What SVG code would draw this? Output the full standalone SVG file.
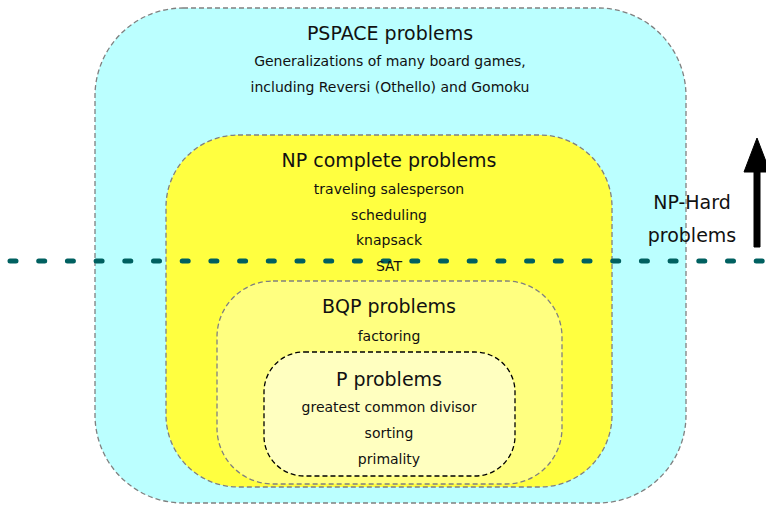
<svg xmlns="http://www.w3.org/2000/svg" width="766" height="507" viewBox="0 0 766 507">
<style>
text{font-family:"DejaVu Sans","Liberation Sans",sans-serif;fill:#111;text-anchor:middle}
.t{font-size:19px}
.s{font-size:14px}
.box{stroke:#808080;stroke-width:1.3;stroke-dasharray:5 3}
</style>
<rect width="766" height="507" fill="#fff"/>
<g id="pspace">
<rect class="box" x="95" y="8" width="591" height="495" rx="88" ry="88" fill="#bbffff"/>
<text class="t" x="390" y="40">PSPACE problems</text>
<text class="s" x="390" y="66">Generalizations of many board games,</text>
<text class="s" x="390" y="92">including Reversi (Othello) and Gomoku</text>
</g>
<g id="np">
<rect class="box" x="166" y="135" width="446" height="352" rx="72" ry="72" fill="#ffff40"/>
<text class="t" x="389" y="167">NP complete problems</text>
<text class="s" x="389" y="194">traveling salesperson</text>
<text class="s" x="389" y="220">scheduling</text>
<text class="s" x="389" y="245">knapsack</text>
</g>
<g id="bqp">
<rect class="box" x="217" y="281" width="345" height="203" rx="56" ry="56" fill="#ffff80"/>
</g>
<g id="p">
<rect x="264" y="352" width="251" height="124" rx="40" ry="40" fill="#ffffc0" stroke="#000" stroke-width="1.3" stroke-dasharray="5 3"/>
</g>
<g id="connectors">
<line x1="10" y1="261" x2="766" y2="261" stroke="#006060" stroke-width="5" stroke-linecap="round" stroke-dasharray="6 22.7"/>
<path d="M754 247 V172 h-10 l13 -34 l13 34 h-10 V247 Z" fill="#000" stroke="#000" stroke-width="1" stroke-linejoin="round"/>
</g>
<g id="labels">
<text class="s" x="389" y="271">SAT</text>
<text class="t" x="389" y="313">BQP problems</text>
<text class="s" x="389" y="341">factoring</text>
<text class="t" x="389" y="386">P problems</text>
<text class="s" x="389" y="412">greatest common divisor</text>
<text class="s" x="389" y="438">sorting</text>
<text class="s" x="389" y="464">primality</text>
</g>
<g id="nphard">
<text class="t" x="692" y="209">NP-Hard</text>
<text class="t" x="692" y="242">problems</text>
</g>
</svg>
